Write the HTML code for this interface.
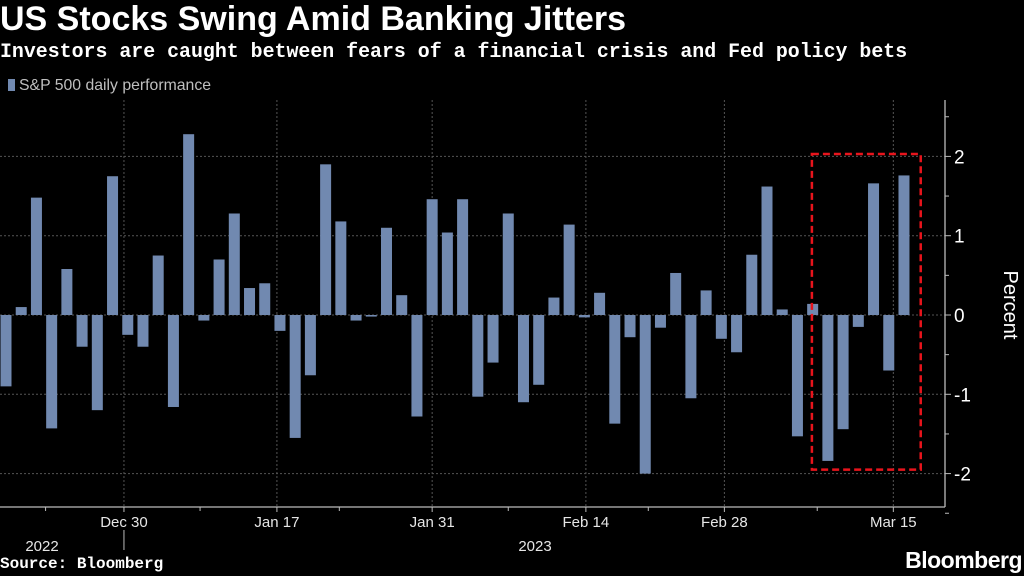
<!DOCTYPE html>
<html><head><meta charset="utf-8">
<style>
html,body{margin:0;padding:0;background:#000;}
body{width:1024px;height:576px;overflow:hidden;position:relative;font-family:"Liberation Sans",sans-serif;color:#fff;}
#title{position:absolute;left:0;top:0px;font-size:34px;font-weight:bold;letter-spacing:0px;}
#subtitle{position:absolute;left:0;top:40px;font-family:"Liberation Mono",monospace;font-size:19.9px;font-weight:bold;}
#legend{position:absolute;left:8px;top:77px;font-size:15.8px;color:#bfbfbf;}
#legend span.sw{display:inline-block;width:7px;height:12px;background:#7189b0;margin-right:4px;vertical-align:-1px;}
#source{position:absolute;left:0;top:555px;font-family:"Liberation Mono",monospace;font-size:16px;font-weight:bold;}
#logo{position:absolute;right:2px;top:547px;font-size:23px;font-weight:bold;letter-spacing:-0.5px;}
svg{position:absolute;left:0;top:0;}
</style></head><body>
<div id="title">US Stocks Swing Amid Banking Jitters</div>
<div id="subtitle">Investors are caught between fears of a financial crisis and Fed policy bets</div>
<div id="legend"><span class="sw"></span>S&amp;P 500 daily performance</div>
<div id="source">Source: Bloomberg</div>
<div id="logo">Bloomberg</div>
<svg id="chart" width="1024" height="576"></svg>
<script>
const values=[-0.9,0.1,1.48,-1.43,0.58,-0.4,-1.2,1.75,-0.25,-0.4,0.75,-1.16,2.28,-0.07,0.7,1.28,0.34,0.4,-0.2,-1.55,-0.76,1.9,1.18,-0.07,-0.02,1.1,0.25,-1.28,1.46,1.04,1.46,-1.03,-0.6,1.28,-1.1,-0.88,0.22,1.14,-0.03,0.28,-1.37,-0.28,-2.0,-0.16,0.53,-1.05,0.31,-0.3,-0.47,0.76,1.62,0.07,-1.53,0.14,-1.84,-1.44,-0.15,1.66,-0.7,1.76];
const dateTicks=["Dec 30","Jan 17","Jan 31","Feb 14","Feb 28","Mar 15"];
const dateTickIdx=[7.75,17.8,28,38.1,47.2,58.3];
const minorTickIdx=[2.6,12.75,21.9,33,42.2,53.3];
const yTicks=[-2,-1,0,1,2];
const years=["2022","2023"];
const highlight=[52.95,60.1,2.03,-1.95];
const NS="http://www.w3.org/2000/svg";
const svg=document.getElementById('chart');
const X0=6,PITCH=15.22,BW=11,AX=945,YTOP=100,YBOT=507;
const x=i=>X0+PITCH*i;
const y=v=>315-v*79.3;
function mk(t,a){const e=document.createElementNS(NS,t);for(const k in a)e.setAttribute(k,a[k]);svg.appendChild(e);return e;}
yTicks.forEach(v=>{
 const g=mk('line',{x1:0,x2:AX,y1:y(v),y2:y(v),stroke:'#555','stroke-dasharray':'2,2','stroke-width':1});
 
 
 const t=mk('line',{x1:AX,x2:AX+6,y1:y(v),y2:y(v),stroke:'#bbb'});
 
 
 const l=mk('text',{x:AX+9,y:y(v)+7,fill:'#fff','font-size':19,'font-family':'Liberation Sans, sans-serif'});
 l.textContent=v<0?'-'+Math.abs(v):String(v);
 
 
});
[-2.5,-1.5,-0.5,0.5,1.5,2.5].forEach(v=>{
 const t=mk('line',{x1:AX,x2:AX+4,y1:y(v),y2:y(v),stroke:'#bbb'});
 
 
});
dateTickIdx.forEach((p,k)=>{
 const g=mk('line',{x1:x(p),x2:x(p),y1:YTOP,y2:YBOT,stroke:'#555','stroke-dasharray':'2,2'});
 
 
 const t=mk('line',{x1:x(p),x2:x(p),y1:YBOT,y2:YBOT+5,stroke:'#bbb'});
 
 
 const l=mk('text',{x:x(p),y:527,fill:'#e6e6e6','font-size':15,'text-anchor':'middle','font-family':'Liberation Sans, sans-serif'});
 l.textContent=dateTicks[k];
 
 
});
minorTickIdx.forEach(p=>{
 const t=mk('line',{x1:x(p),x2:x(p),y1:YBOT,y2:YBOT+4,stroke:'#bbb'});
 
 
});
values.forEach((v,i)=>{
 const r=mk('rect',{x:x(i)-BW/2,y:Math.min(y(v),y(0)),width:BW,height:Math.abs(y(v)-y(0)),fill:'#7189b0'});
 
 
});
const ax=mk('line',{x1:AX,x2:AX,y1:YTOP,y2:YBOT,stroke:'#bbb','stroke-width':1.3});


const bx=mk('line',{x1:0,x2:AX,y1:YBOT,y2:YBOT,stroke:'#bbb','stroke-width':1.3});


const sep=mk('line',{x1:x(dateTickIdx[0]),x2:x(dateTickIdx[0]),y1:530,y2:550,stroke:'#bbb'});


[[42,years[0]],[535,years[1]]].forEach(([px,t])=>{
 const l=mk('text',{x:px,y:551,fill:'#e6e6e6','font-size':15,'text-anchor':'middle','font-family':'Liberation Sans, sans-serif'});
 l.textContent=t;
 
 
});
const hb=mk('rect',{x:x(highlight[0]),y:y(highlight[2]),width:x(highlight[1])-x(highlight[0]),height:y(highlight[3])-y(highlight[2]),fill:'none',stroke:'#e8141c','stroke-width':2.5,'stroke-dasharray':'7,4'});


const yt=mk('text',{x:0,y:0,fill:'#fff','font-size':20,'text-anchor':'middle','font-family':'Liberation Sans, sans-serif',transform:'translate(1004,305) rotate(90)'});
yt.textContent='Percent';


</script>
</body></html>
